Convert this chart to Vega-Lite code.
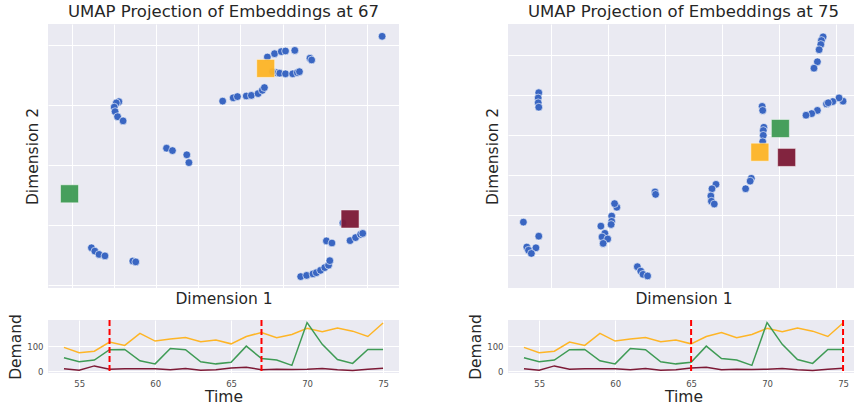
{
  "$schema": "https://vega.github.io/schema/vega-lite/v6.json",
  "background": "white",
  "padding": {"left": 8, "top": 3, "right": 0, "bottom": 0},
  "config": {
    "view": {"fill": "#EAEAF2", "stroke": null},
    "axis": {"gridColor": "white", "gridWidth": 1, "domain": false, "ticks": false, "labelColor": "#4d4d4d", "titleColor": "#262626", "titleFont": "DejaVu Sans", "labelFont": "DejaVu Sans", "titleFontWeight": "normal", "labelFontSize": 8.5, "titleFontSize": 15.5},
    "title": {"font": "DejaVu Sans", "fontSize": 16.5, "fontWeight": "normal", "color": "#262626"}
  },
  "datasets": {
    "umap67": [
      {"x": 7.36, "y": 7.29}, {"x": 4.64, "y": 6.60}, {"x": 4.81, "y": 6.71}, {"x": 4.97, "y": 6.78}, {"x": 5.07, "y": 6.80}, {"x": 5.29, "y": 6.82}, {"x": 5.65, "y": 6.56}, {"x": 5.69, "y": 6.50},
      {"x": 4.85, "y": 6.08}, {"x": 4.93, "y": 6.06}, {"x": 5.07, "y": 6.04}, {"x": 5.24, "y": 6.04}, {"x": 5.35, "y": 6.08}, {"x": 5.40, "y": 6.11}, {"x": 4.76, "y": 6.11},
      {"x": 3.58, "y": 5.13}, {"x": 3.83, "y": 5.24}, {"x": 3.93, "y": 5.28}, {"x": 4.14, "y": 5.30}, {"x": 4.26, "y": 5.32}, {"x": 4.42, "y": 5.38}, {"x": 4.52, "y": 5.49}, {"x": 4.57, "y": 5.58},
      {"x": 1.12, "y": 5.11}, {"x": 1.06, "y": 5.07}, {"x": 1.01, "y": 4.93}, {"x": 1.03, "y": 4.78}, {"x": 1.09, "y": 4.61}, {"x": 1.22, "y": 4.47},
      {"x": 2.25, "y": 3.56}, {"x": 2.39, "y": 3.48}, {"x": 2.73, "y": 3.34}, {"x": 2.78, "y": 3.08},
      {"x": 0.47, "y": 0.24}, {"x": 0.55, "y": 0.13}, {"x": 0.65, "y": 0.02}, {"x": 0.79, "y": -0.03},
      {"x": 1.45, "y": -0.20}, {"x": 1.52, "y": -0.23},
      {"x": 5.43, "y": -0.72}, {"x": 5.57, "y": -0.68}, {"x": 5.72, "y": -0.63}, {"x": 5.80, "y": -0.59}, {"x": 5.90, "y": -0.51}, {"x": 6.00, "y": -0.42}, {"x": 6.09, "y": -0.34}, {"x": 6.12, "y": -0.19},
      {"x": 6.04, "y": 0.47}, {"x": 6.17, "y": 0.40},
      {"x": 6.43, "y": 1.07}, {"x": 6.60, "y": 0.48}, {"x": 6.73, "y": 0.58}, {"x": 6.85, "y": 0.69}, {"x": 6.90, "y": 0.72}
    ],
    "sq67": [
      {"series": "A", "x": 4.60, "y": 6.22},
      {"series": "B", "x": -0.05, "y": 2.04},
      {"series": "C", "x": 6.60, "y": 1.20}
    ],
    "umap75": [
      {"x": 4.77, "y": 5.44}, {"x": 4.74, "y": 5.35}, {"x": 4.73, "y": 5.25}, {"x": 4.70, "y": 5.12}, {"x": 4.67, "y": 4.82}, {"x": 4.61, "y": 4.66},
      {"x": 5.12, "y": 3.84}, {"x": 5.05, "y": 3.92}, {"x": 4.94, "y": 3.83}, {"x": 4.83, "y": 3.77}, {"x": 4.86, "y": 3.80}, {"x": 4.67, "y": 3.61}, {"x": 4.57, "y": 3.53}, {"x": 4.47, "y": 3.49},
      {"x": -0.22, "y": 4.05}, {"x": -0.23, "y": 3.92}, {"x": -0.23, "y": 3.80}, {"x": -0.22, "y": 3.69},
      {"x": 3.70, "y": 3.71}, {"x": 3.71, "y": 3.61}, {"x": 3.73, "y": 3.19}, {"x": 3.72, "y": 3.11}, {"x": 3.72, "y": 2.99}, {"x": 3.71, "y": 2.83},
      {"x": 3.51, "y": 1.92}, {"x": 3.49, "y": 1.85}, {"x": 3.41, "y": 1.66},
      {"x": 2.89, "y": 1.77}, {"x": 2.82, "y": 1.66}, {"x": 2.80, "y": 1.48}, {"x": 2.81, "y": 1.35}, {"x": 2.86, "y": 1.28},
      {"x": 1.82, "y": 1.58}, {"x": 1.83, "y": 1.52},
      {"x": 1.15, "y": 1.20}, {"x": 1.11, "y": 1.29}, {"x": 1.06, "y": 0.98}, {"x": 1.06, "y": 0.85}, {"x": 1.05, "y": 0.77}, {"x": 0.87, "y": 0.73}, {"x": 0.94, "y": 0.55}, {"x": 0.89, "y": 0.46}, {"x": 0.99, "y": 0.41}, {"x": 0.91, "y": 0.30},
      {"x": -0.49, "y": 0.83}, {"x": -0.22, "y": 0.48}, {"x": -0.27, "y": 0.19}, {"x": -0.43, "y": 0.21}, {"x": -0.40, "y": 0.13}, {"x": -0.35, "y": 0.05},
      {"x": 1.51, "y": -0.28}, {"x": 1.57, "y": -0.39}, {"x": 1.61, "y": -0.47}, {"x": 1.69, "y": -0.51}
    ],
    "sq75": [
      {"series": "A", "x": 3.66, "y": 2.57},
      {"series": "B", "x": 4.02, "y": 3.16},
      {"series": "C", "x": 4.13, "y": 2.44}
    ],
    "demand": [
      {"t": 54, "series": "A", "v": 95}, {"t": 55, "series": "A", "v": 74}, {"t": 56, "series": "A", "v": 80}, {"t": 57, "series": "A", "v": 116}, {"t": 58, "series": "A", "v": 103}, {"t": 59, "series": "A", "v": 150}, {"t": 60, "series": "A", "v": 120}, {"t": 61, "series": "A", "v": 128}, {"t": 62, "series": "A", "v": 134}, {"t": 63, "series": "A", "v": 117}, {"t": 64, "series": "A", "v": 124}, {"t": 65, "series": "A", "v": 109}, {"t": 66, "series": "A", "v": 138}, {"t": 67, "series": "A", "v": 154}, {"t": 68, "series": "A", "v": 133}, {"t": 69, "series": "A", "v": 146}, {"t": 70, "series": "A", "v": 170}, {"t": 71, "series": "A", "v": 157}, {"t": 72, "series": "A", "v": 171}, {"t": 73, "series": "A", "v": 159}, {"t": 74, "series": "A", "v": 138}, {"t": 75, "series": "A", "v": 191},
      {"t": 54, "series": "B", "v": 54}, {"t": 55, "series": "B", "v": 38}, {"t": 56, "series": "B", "v": 45}, {"t": 57, "series": "B", "v": 86}, {"t": 58, "series": "B", "v": 87}, {"t": 59, "series": "B", "v": 42}, {"t": 60, "series": "B", "v": 30}, {"t": 61, "series": "B", "v": 91}, {"t": 62, "series": "B", "v": 86}, {"t": 63, "series": "B", "v": 38}, {"t": 64, "series": "B", "v": 30}, {"t": 65, "series": "B", "v": 36}, {"t": 66, "series": "B", "v": 100}, {"t": 67, "series": "B", "v": 51}, {"t": 68, "series": "B", "v": 45}, {"t": 69, "series": "B", "v": 24}, {"t": 70, "series": "B", "v": 193}, {"t": 71, "series": "B", "v": 107}, {"t": 72, "series": "B", "v": 47}, {"t": 73, "series": "B", "v": 32}, {"t": 74, "series": "B", "v": 87}, {"t": 75, "series": "B", "v": 87},
      {"t": 54, "series": "C", "v": 11}, {"t": 55, "series": "C", "v": 5}, {"t": 56, "series": "C", "v": 22}, {"t": 57, "series": "C", "v": 9}, {"t": 58, "series": "C", "v": 11}, {"t": 59, "series": "C", "v": 11}, {"t": 60, "series": "C", "v": 11}, {"t": 61, "series": "C", "v": 7}, {"t": 62, "series": "C", "v": 12}, {"t": 63, "series": "C", "v": 5}, {"t": 64, "series": "C", "v": 7}, {"t": 65, "series": "C", "v": 14}, {"t": 66, "series": "C", "v": 17}, {"t": 67, "series": "C", "v": 7}, {"t": 68, "series": "C", "v": 9}, {"t": 69, "series": "C", "v": 8}, {"t": 70, "series": "C", "v": 9}, {"t": 71, "series": "C", "v": 12}, {"t": 72, "series": "C", "v": 7}, {"t": 73, "series": "C", "v": 4}, {"t": 74, "series": "C", "v": 9}, {"t": 75, "series": "C", "v": 13}
    ],
    "marks67": [{"t": 57}, {"t": 67}],
    "marks75": [{"t": 65}, {"t": 75}]
  },
  "bounds": "full",
  "spacing": 69,
  "hconcat": [
    {
      "bounds": "flush",
      "spacing": 32,
      "vconcat": [
        {
          "width": 351, "height": 264,
          "title": {"text": "UMAP Projection of Embeddings at 67", "offset": 4},
          "layer": [
            {
              "data": {"name": "umap67"},
              "mark": {"type": "circle", "size": 60, "color": "#3A66C2", "stroke": "white", "strokeWidth": 0.6, "opacity": 1},
              "encoding": {
                "x": {"field": "x", "type": "quantitative", "scale": {"domain": [-0.56, 7.76], "nice": false, "zero": false}, "axis": {"values": [0, 1, 2, 3, 4, 5, 6, 7], "labels": false, "title": "Dimension 1", "titlePadding": 3}},
                "y": {"field": "y", "type": "quantitative", "scale": {"domain": [-1.1, 7.7], "nice": false, "zero": false}, "axis": {"values": [-1, 0, 1, 2, 3, 4, 5, 6, 7], "labels": false, "title": "Dimension 2", "titlePadding": 8}}
              }
            },
            {
              "data": {"name": "sq67"},
              "mark": {"type": "square", "size": 324, "opacity": 0.95, "stroke": "white", "strokeWidth": 0.5},
              "encoding": {
                "x": {"field": "x", "type": "quantitative"},
                "y": {"field": "y", "type": "quantitative"},
                "color": {"field": "series", "type": "nominal", "scale": {"domain": ["A", "B", "C"], "range": ["#FEB526", "#3F9B55", "#7D1A36"]}, "legend": null}
              }
            }
          ]
        },
        {
          "width": 351, "height": 53,
          "layer": [
            {
              "data": {"name": "demand"},
              "mark": {"type": "line", "strokeWidth": 1.5},
              "encoding": {
                "x": {"field": "t", "type": "quantitative", "scale": {"domain": [52.95, 76.05], "nice": false, "zero": false}, "axis": {"values": [55, 60, 65, 70, 75], "title": "Time", "labelPadding": 6, "titlePadding": 2}},
                "y": {"field": "v", "type": "quantitative", "scale": {"domain": [-6, 203], "nice": false, "zero": false}, "axis": {"values": [0, 100], "title": "Demand", "labelPadding": 5, "titlePadding": 3}},
                "color": {"field": "series", "type": "nominal", "scale": {"domain": ["A", "B", "C"], "range": ["#FDB829", "#3D9A55", "#7E1E3F"]}, "legend": null}
              }
            },
            {
              "data": {"name": "marks67"},
              "mark": {"type": "rule", "color": "#FF0000", "strokeWidth": 2, "strokeDash": [6, 3]},
              "encoding": {"x": {"field": "t", "type": "quantitative"}}
            }
          ]
        }
      ]
    },
    {
      "bounds": "flush",
      "spacing": 32,
      "vconcat": [
        {
          "width": 351, "height": 264,
          "title": {"text": "UMAP Projection of Embeddings at 75", "offset": 4},
          "layer": [
            {
              "data": {"name": "umap75"},
              "mark": {"type": "circle", "size": 60, "color": "#3A66C2", "stroke": "white", "strokeWidth": 0.6, "opacity": 1},
              "encoding": {
                "x": {"field": "x", "type": "quantitative", "scale": {"domain": [-0.76, 5.4], "nice": false, "zero": false}, "axis": {"values": [0, 1, 2, 3, 4, 5], "labels": false, "title": "Dimension 1", "titlePadding": 3}},
                "y": {"field": "y", "type": "quantitative", "scale": {"domain": [-0.81, 5.76], "nice": false, "zero": false}, "axis": {"values": [0, 1, 2, 3, 4, 5], "labels": false, "title": "Dimension 2", "titlePadding": 8}}
              }
            },
            {
              "data": {"name": "sq75"},
              "mark": {"type": "square", "size": 324, "opacity": 0.95, "stroke": "white", "strokeWidth": 0.5},
              "encoding": {
                "x": {"field": "x", "type": "quantitative"},
                "y": {"field": "y", "type": "quantitative"},
                "color": {"field": "series", "type": "nominal", "scale": {"domain": ["A", "B", "C"], "range": ["#FEB526", "#3F9B55", "#7D1A36"]}, "legend": null}
              }
            }
          ]
        },
        {
          "width": 351, "height": 53,
          "layer": [
            {
              "data": {"name": "demand"},
              "mark": {"type": "line", "strokeWidth": 1.5},
              "encoding": {
                "x": {"field": "t", "type": "quantitative", "scale": {"domain": [52.95, 76.05], "nice": false, "zero": false}, "axis": {"values": [55, 60, 65, 70, 75], "title": "Time", "labelPadding": 6, "titlePadding": 2}},
                "y": {"field": "v", "type": "quantitative", "scale": {"domain": [-6, 203], "nice": false, "zero": false}, "axis": {"values": [0, 100], "title": "Demand", "labelPadding": 5, "titlePadding": 3}},
                "color": {"field": "series", "type": "nominal", "scale": {"domain": ["A", "B", "C"], "range": ["#FDB829", "#3D9A55", "#7E1E3F"]}, "legend": null}
              }
            },
            {
              "data": {"name": "marks75"},
              "mark": {"type": "rule", "color": "#FF0000", "strokeWidth": 2, "strokeDash": [6, 3]},
              "encoding": {"x": {"field": "t", "type": "quantitative"}}
            }
          ]
        }
      ]
    }
  ]
}
